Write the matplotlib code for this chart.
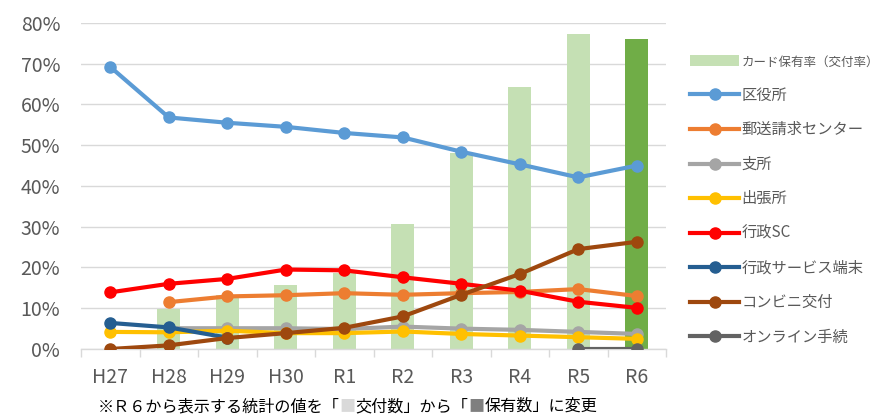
import matplotlib
matplotlib.use("Agg")
import matplotlib.pyplot as plt
import numpy as np

plt.rcParams['font.family'] = ['Noto Sans CJK JP', 'DejaVu Sans']

years = ["H27", "H28", "H29", "H30", "R1", "R2", "R3", "R4", "R5", "R6"]

# カード保有率（交付率） in %, R6 is 保有数 base
card_rate = [np.nan, 9.8, 13.3, 15.6, 18.6, 30.7, 48.1, 64.2, 77.2, 76.1]

kuyakusho = [69.2, 56.8, 55.5, 54.5, 53.0, 51.9, 48.4, 45.3, 42.1, 45.0]
yuso = [np.nan, 11.5, 12.9, 13.2, 13.7, 13.3, 13.7, 14.0, 14.7, 13.0]
shisho = [np.nan, 5.1, 5.1, 5.1, 4.9, 5.5, 5.0, 4.7, 4.2, 3.7]
shutchojo = [4.2, 4.1, 4.5, 3.9, 3.9, 4.3, 3.7, 3.3, 2.9, 2.5]
gyosei_sc = [13.9, 16.0, 17.2, 19.5, 19.3, 17.6, 16.0, 14.3, 11.6, 10.1]
tanmatsu = [6.4, 5.3, 2.8, np.nan, np.nan, np.nan, np.nan, np.nan, np.nan, np.nan]
konbini = [0.0, 0.9, 2.7, 3.9, 5.2, 8.0, 13.3, 18.4, 24.5, 26.3]
online = [np.nan, np.nan, np.nan, np.nan, np.nan, np.nan, np.nan, np.nan, 0.0, 0.0]

series = [
    ("区役所", kuyakusho, "#5B9BD5"),
    ("郵送請求センター", yuso, "#ED7D31"),
    ("支所", shisho, "#A5A5A5"),
    ("出張所", shutchojo, "#FFC000"),
    ("行政SC", gyosei_sc, "#FF0000"),
    ("行政サービス端末", tanmatsu, "#255E91"),
    ("コンビニ交付", konbini, "#9E480E"),
    ("オンライン手続", online, "#636363"),
]

fig = plt.figure(figsize=(8.81, 4.16), dpi=100)
ax = fig.add_axes([0.092, 0.161, 0.664, 0.784])

x = np.arange(len(years))
vals = np.array(card_rate) / 100
bar_colors = ["#C5E0B4"] * (len(years) - 1) + ["#70AD47"]
ax.bar(x, vals, width=0.4, color=bar_colors, zorder=2,
       label="カード保有率（交付率）")

for name, data, col in series:
    ax.plot(x, np.array(data) / 100, color=col, lw=3, marker="o", ms=8,
            label=name, zorder=3)

ax.set_xlim(-0.5, len(years) - 0.5)
ax.set_ylim(0, 0.8)
ax.set_yticks(np.arange(0, 0.81, 0.1))
ax.set_yticklabels([f"{int(round(v * 100))}%" for v in np.arange(0, 0.81, 0.1)])
ax.set_xticks(x)
ax.set_xticklabels(years)
ax.set_xticks(np.arange(-0.5, len(years), 1), minor=True)
ax.tick_params(axis="x", which="major", length=0, pad=13, labelsize=14, colors="#595959")
ax.tick_params(axis="x", which="minor", length=6, color="#D9D9D9", width=1)
ax.tick_params(axis="y", length=0, labelsize=14, colors="#595959", pad=15)
ax.grid(axis="y", color="#D9D9D9", lw=1, zorder=0)
ax.set_axisbelow(True)
for s in ["top", "right", "left"]:
    ax.spines[s].set_visible(False)
ax.spines["bottom"].set_color("#D9D9D9")
ax.spines["bottom"].set_linewidth(1)

handles, labels = ax.get_legend_handles_labels()
handles = handles[-1:] + handles[:-1]
labels = labels[-1:] + labels[:-1]
leg = ax.legend(handles, labels, loc="upper left", bbox_to_anchor=(0.775, 0.885),
                bbox_transform=fig.transFigure, frameon=False, fontsize=11,
                handlelength=3.2, handletextpad=0.15, labelspacing=1.15,
                labelcolor="#595959", borderpad=0)
leg.get_texts()[0].set_fontsize(9)

# note under the chart, in pieces so the squares can be coloured
parts = [("※Ｒ６から表示する統計の値を「", "black"),
         ("■", "#D9D9D9"),
         ("交付数」から「", "black"),
         ("■", "#7F7F7F"),
         ("保有数」に変更", "black")]
prev = None
for s, c in parts:
    if prev is None:
        prev = fig.text(0.111, 0.012, s, fontsize=11.6, color=c)
    else:
        prev = ax.annotate(s, xycoords=prev, xy=(1, 0), va="bottom",
                           fontsize=11.6, color=c, annotation_clip=False)

fig.savefig("out.png", dpi=100)
